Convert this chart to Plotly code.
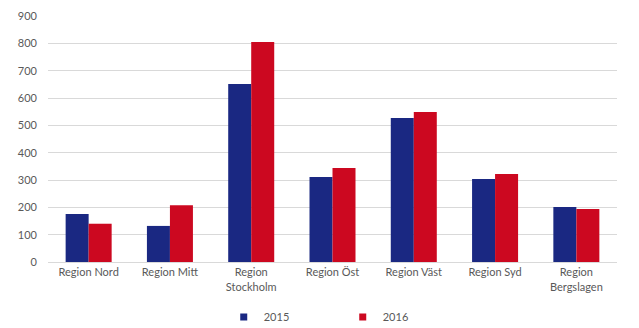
import plotly.graph_objects as go

categories = ["Region Nord", "Region Mitt", "Region<br>Stockholm", "Region Öst",
              "Region Väst", "Region Syd", "Region<br>Bergslagen"]
values_2015 = [176, 132, 651, 311, 527, 304, 201]
values_2016 = [140, 208, 805, 344, 549, 322, 194]
y_ticks = [0, 100, 200, 300, 400, 500, 600, 700, 800, 900]
series_names = ["2015", "2016"]
series_colors = ["#1A2882", "#CC0820"]

font_family = "Lato, Open Sans, sans-serif"
text_color = "#595959"

fig = go.Figure()
for name, vals, col in zip(series_names, [values_2015, values_2016], series_colors):
    fig.add_trace(go.Bar(name=name, x=categories, y=vals, marker_color=col,
                         marker_line_width=0, showlegend=False))
# legend entries with small square markers
for name, col in zip(series_names, series_colors):
    fig.add_trace(go.Scatter(name=name, x=[None], y=[None], mode="markers",
                             marker=dict(symbol="square", size=7, color=col),
                             showlegend=True))

fig.update_layout(
    width=639, height=328,
    margin=dict(l=48, r=22, t=16, b=66, autoexpand=False),
    barmode="group", bargap=0.434, bargroupgap=0,
    plot_bgcolor="white", paper_bgcolor="white",
    font=dict(family=font_family, size=11, color=text_color),
    showlegend=True,
    legend=dict(orientation="h", x=0.518, xanchor="center", y=-0.224, yanchor="middle",
                entrywidth=74, font=dict(size=11, color=text_color),
                itemwidth=30, tracegroupgap=0),
    xaxis=dict(showgrid=False, showline=True, linecolor="#D9D9D9", linewidth=1,
               ticks="", tickfont=dict(size=11, color=text_color), automargin=False),
    yaxis=dict(range=[0, 900], tickvals=y_ticks, showgrid=True, gridcolor="#D9D9D9",
               gridwidth=1, zeroline=False, showline=False, ticks="",
               tickfont=dict(size=11, color=text_color), ticklabelstandoff=10,
               automargin=False),
)

fig.write_html("out.html")
